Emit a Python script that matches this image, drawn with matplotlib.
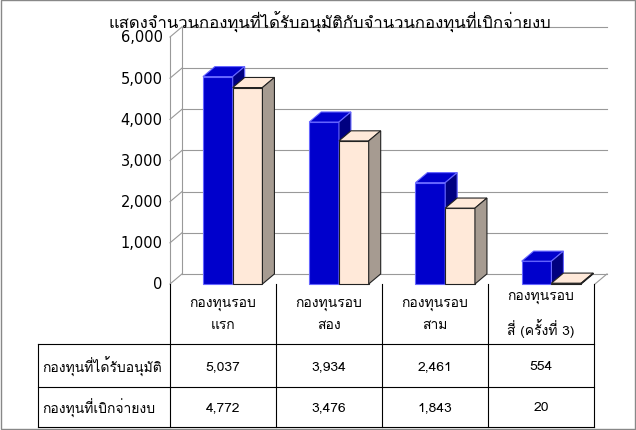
import matplotlib
matplotlib.use("Agg")
import matplotlib.pyplot as plt
from matplotlib.patches import Polygon
from matplotlib.lines import Line2D
from matplotlib import font_manager
from matplotlib.ft2font import FT2Font

thai_fams = []
for f in font_manager.fontManager.ttflist:
    try:
        if 0x0E01 in FT2Font(f.fname).get_charmap() and f.name not in thai_fams:
            thai_fams.append(f.name)
    except Exception:
        pass
plt.rcParams['font.family'] = thai_fams[:1] + ['DejaVu Sans']

title = "แสดงจำนวนกองทุนที่ได้รับอนุมัติกับจำนวนกองทุนที่เบิกจ่ายงบ"
categories = ["กองทุนรอบ\nแรก", "กองทุนรอบ\nสอง", "กองทุนรอบ\nสาม", "กองทุนรอบ\nสี่ (ครั้งที่ 3)"]
series_names = ["กองทุนที่ได้รับอนุมัติ", "กองทุนที่เบิกจ่ายงบ"]
approved = [5037, 3934, 2461, 554]
disbursed = [4772, 3476, 1843, 20]
yticks = [0, 1000, 2000, 3000, 4000, 5000, 6000]

W, H = 636, 431
fig = plt.figure(figsize=(W/100, H/100), dpi=100)
def fx(px): return px / W
def fy(py): return 1 - py / H

ax = fig.add_axes([fx(170), fy(285), fx(595) - fx(170), fy(38) - fy(285)])
ax.set_xlim(0, 4)
ax.set_ylim(0, 6000)
ax.axis('off')

dx = 0.113
dy = 245
for t in yticks:
    ax.add_line(Line2D([dx, 4 + dx], [t + dy, t + dy], color='#999999', lw=0.8, clip_on=False, zorder=0))
    ax.add_line(Line2D([0, dx], [t, t + dy], color='#999999', lw=0.8, clip_on=False, zorder=0))
    ax.text(-0.07, t, f"{t:,}", ha='right', va='center', fontsize=10.5, family=['DejaVu Sans'])
ax.add_line(Line2D([dx, dx], [dy, 6000 + dy], color='#999999', lw=0.8, clip_on=False, zorder=0))
ax.add_line(Line2D([0, 0], [0, 6000], color='#999999', lw=0.8, clip_on=False, zorder=0))
ax.add_line(Line2D([4 + dx, 4], [dy, 0], color='#999999', lw=0.8, clip_on=False, zorder=0))

bw = 0.28
def bar3d(x0, h, front, top, side, edge):
    ax.add_patch(Polygon([[x0, 0], [x0 + bw, 0], [x0 + bw, h], [x0, h]], closed=True,
                         fc=front, ec=edge, lw=0.8, zorder=3, clip_on=False))
    ax.add_patch(Polygon([[x0, h], [x0 + dx, h + dy], [x0 + bw + dx, h + dy], [x0 + bw, h]],
                         closed=True, fc=top, ec=edge, lw=0.8, zorder=3, clip_on=False))
    ax.add_patch(Polygon([[x0 + bw, 0], [x0 + bw + dx, dy], [x0 + bw + dx, h + dy], [x0 + bw, h]],
                         closed=True, fc=side, ec=edge, lw=0.8, zorder=3, clip_on=False))

for i in range(4):
    bar3d(i + 0.31, approved[i], '#0000CC', '#0000CC', '#000080', '#6666FF')
    bar3d(i + 0.31 + bw, disbursed[i], '#FFE9D9', '#FFE9D9', '#A69B91', '#222222')

fig.text(fx(330), fy(22), title, ha='center', va='center', fontsize=12)

lc = '#000000'
cols = [170, 276, 382, 488, 594]
def hline(y, x0, x1):
    fig.add_artist(Line2D([fx(x0), fx(x1)], [fy(y), fy(y)], color=lc, lw=0.8))
def vline(x, y0, y1):
    fig.add_artist(Line2D([fx(x), fx(x)], [fy(y0), fy(y1)], color=lc, lw=0.8))
hline(345, 38, 594); hline(388, 38, 594); hline(428, 38, 594)
for c in cols:
    vline(c, 285, 428)
vline(38, 345, 428)
for i, cat in enumerate(categories):
    fig.text(fx((cols[i] + cols[i + 1]) / 2), fy(315), cat, ha='center', va='center',
             fontsize=10, linespacing=2.0)
rows = [approved, disbursed]
for r, (name, vals) in enumerate(zip(series_names, rows)):
    yc = 367 if r == 0 else 408
    fig.text(fx(42), fy(yc), name, ha='left', va='center', fontsize=10)
    for i, v in enumerate(vals):
        fig.text(fx((cols[i] + cols[i + 1]) / 2), fy(yc), f"{v:,}", ha='center', va='center', fontsize=10)

fig.add_artist(Polygon([[fx(1), fy(1)], [fx(635), fy(1)], [fx(635), fy(430)], [fx(1), fy(430)]],
                       closed=True, fill=False, ec='#888888', lw=1))
fig.savefig("out.png", dpi=100)
